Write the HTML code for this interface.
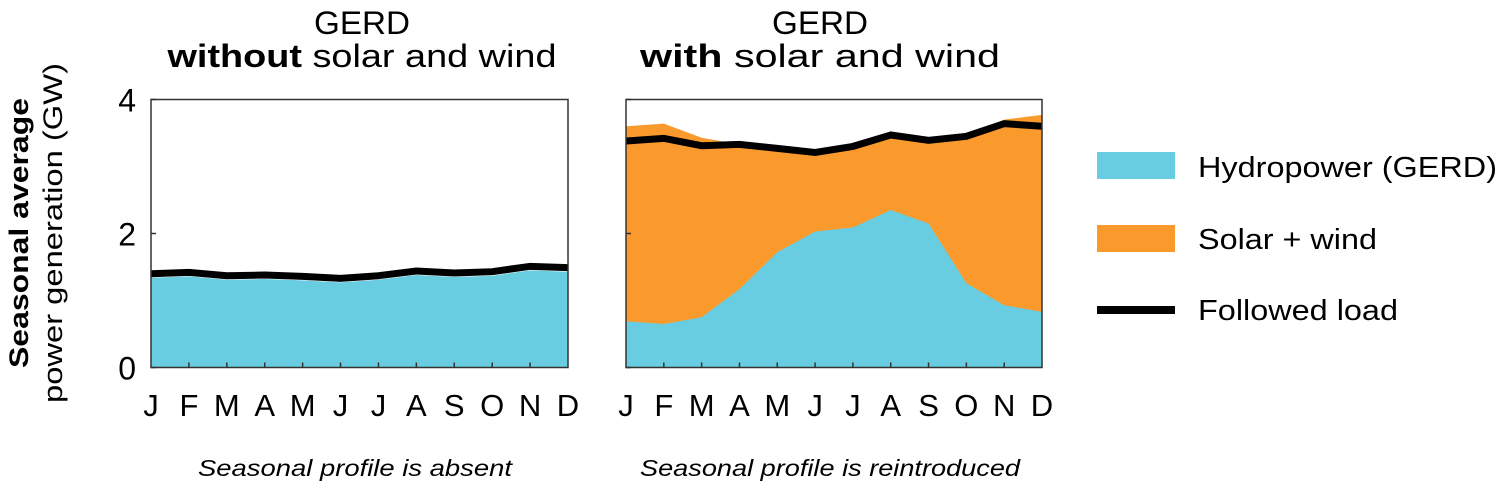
<!DOCTYPE html>
<html><head><meta charset="utf-8"><style>
body{margin:0;background:#fff;}
svg text{font-family:"Liberation Sans",Arial,sans-serif;fill:#000;}
</style></head><body>
<svg id="chart" width="1500" height="485" xmlns="http://www.w3.org/2000/svg">
<g>
<text x="362" y="34" font-size="32" text-anchor="middle" textLength="96" lengthAdjust="spacingAndGlyphs">GERD</text>
<text x="362" y="67" font-size="32" text-anchor="middle" textLength="389" lengthAdjust="spacingAndGlyphs"><tspan font-weight="bold">without</tspan> solar and wind</text>
</g>
<g>
<text x="820" y="34" font-size="32" text-anchor="middle" textLength="96" lengthAdjust="spacingAndGlyphs">GERD</text>
<text x="820" y="67" font-size="32" text-anchor="middle" textLength="360" lengthAdjust="spacingAndGlyphs"><tspan font-weight="bold">with</tspan> solar and wind</text>
</g>
<g transform="translate(0,233) rotate(-90)">
<text x="0" y="28" font-size="27" font-weight="bold" text-anchor="middle" textLength="270" lengthAdjust="spacingAndGlyphs">Seasonal average</text>
<text x="0" y="62" font-size="27" text-anchor="middle" textLength="340" lengthAdjust="spacingAndGlyphs">power generation (GW)</text>
</g>
<g id="left"></g>
<g id="right"></g>
<text x="355" y="476" font-size="23" font-style="italic" text-anchor="middle" textLength="314" lengthAdjust="spacingAndGlyphs">Seasonal profile is absent</text>
<text x="830" y="476" font-size="23" font-style="italic" text-anchor="middle" textLength="380" lengthAdjust="spacingAndGlyphs">Seasonal profile is reintroduced</text>
<g>
<rect x="1097" y="152" width="78" height="27" fill="#68cde0"/>
<text x="1198" y="177" font-size="29" textLength="299" lengthAdjust="spacingAndGlyphs">Hydropower (GERD)</text>
<rect x="1097" y="225" width="78" height="27" fill="#fb9a2c"/>
<text x="1198" y="249" font-size="29" textLength="179" lengthAdjust="spacingAndGlyphs">Solar + wind</text>
<rect x="1097" y="306" width="78" height="8" fill="#000"/>
<text x="1198" y="320" font-size="29" textLength="200" lengthAdjust="spacingAndGlyphs">Followed load</text>
</g>
</svg>
<script>
const months = ["J","F","M","A","M","J","J","A","S","O","N","D"];
const yTicks = [0,2,4];
const leftHydro = [1.34,1.36,1.31,1.32,1.30,1.27,1.31,1.38,1.35,1.37,1.45,1.43];
const leftLoad = [1.40,1.42,1.37,1.38,1.36,1.33,1.37,1.44,1.41,1.43,1.51,1.49];
const rightHydro = [0.69,0.65,0.75,1.17,1.72,2.03,2.09,2.35,2.15,1.26,0.93,0.83];
const rightTotal = [3.60,3.64,3.43,3.33,3.27,3.21,3.30,3.47,3.39,3.45,3.70,3.77];
const rightLoad = [3.38,3.42,3.31,3.33,3.27,3.21,3.30,3.47,3.39,3.45,3.64,3.60];
const NS="http://www.w3.org/2000/svg";
function mk(p,tag,a){const e=document.createElementNS(NS,tag);for(const k in a)e.setAttribute(k,a[k]);p.appendChild(e);return e;}
function panel(g,x0,x1,hydro,total,load,showY){
  const top=99.5,bot=367.5;
  const X=i=>x0+(x1-x0)*i/(months.length-1);
  const Y=v=>bot-(bot-top)*v/4;
  if(total){
    let d=`M${X(0)},${bot}`;total.forEach((v,i)=>d+=`L${X(i)},${Y(v)}`);d+=`L${X(11)},${bot}Z`;
    const a=mk(g,"path",{d:d,fill:"#fb9a2c"});
    
    
  }
  let d=`M${X(0)},${bot}`;hydro.forEach((v,i)=>d+=`L${X(i)},${Y(v)}`);d+=`L${X(11)},${bot}Z`;
  const h=mk(g,"path",{d:d,fill:"#68cde0"});
  
  
  const l=mk(g,"polyline",{points:load.map((v,i)=>X(i)+","+Y(v)).join(" "),fill:"none",stroke:"#000","stroke-width":7});
  
  
  const f=mk(g,"rect",{x:x0,y:top,width:x1-x0,height:bot-top,fill:"none",stroke:"#333","stroke-width":1.5});
  
  
  months.forEach((m,i)=>{
    if(i>0&&i<11){const t=mk(g,"line",{x1:X(i),x2:X(i),y1:bot,y2:bot-5,stroke:"#333","stroke-width":1.5});
      }
    const tx=mk(g,"text",{x:X(i),y:416,"font-size":31,"text-anchor":"middle"});tx.textContent=m;
    
    
  });
  yTicks.forEach(v=>{
    const t=mk(g,"line",{x1:x0,x2:x0+5,y1:Y(v),y2:Y(v),stroke:"#333","stroke-width":1.5});
    
    if(showY){const tx=mk(g,"text",{x:136,y:Y(v)+12,"font-size":32,"text-anchor":"end"});tx.textContent=v;
      
      }
  });
}
panel(document.getElementById("left"),151,568,leftHydro,null,leftLoad,true);
panel(document.getElementById("right"),626,1042,rightHydro,rightTotal,rightLoad,false);
</script>
</body></html>
